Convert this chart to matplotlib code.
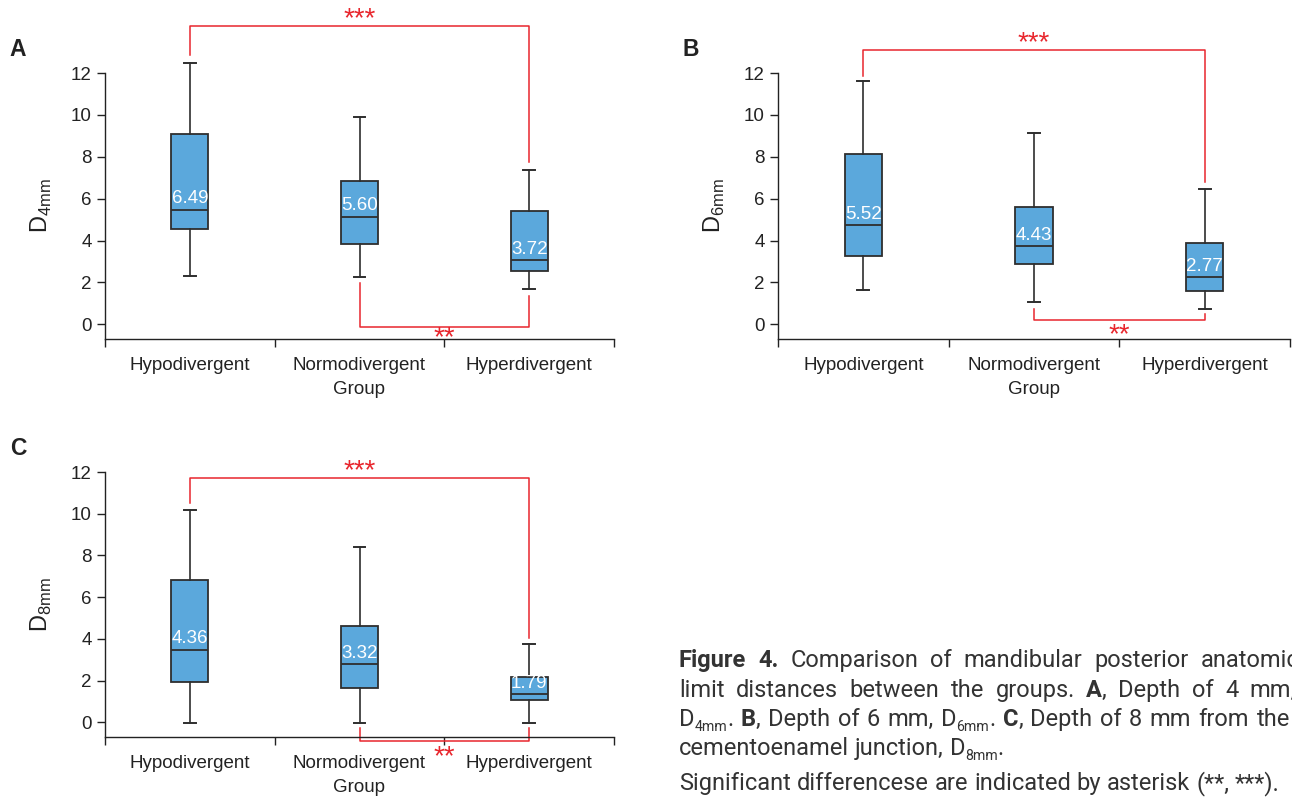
import matplotlib
matplotlib.use("Agg")
import matplotlib.pyplot as plt

plt.rcParams['font.family'] = ['Liberation Sans', 'DejaVu Sans']

groups = ["Hypodivergent", "Normodivergent", "Hyperdivergent"]

# box statistics (whisker low, Q1, median, Q3, whisker high)
d4_low = [2.33, 2.27, 1.71]
d4_q1 = [4.53, 3.85, 2.55]
d4_med = [5.46, 5.14, 3.06]
d4_q3 = [9.08, 6.83, 5.41]
d4_high = [12.48, 9.88, 7.39]
d4_mean = [6.49, 5.60, 3.72]

d6_low = [1.64, 1.07, 0.75]
d6_q1 = [3.24, 2.87, 1.61]
d6_med = [4.74, 3.72, 2.25]
d6_q3 = [8.14, 5.58, 3.86]
d6_high = [11.60, 9.13, 6.48]
d6_mean = [5.52, 4.43, 2.77]

d8_low = [-0.05, -0.05, -0.05]
d8_q1 = [1.95, 1.65, 1.05]
d8_med = [3.47, 2.78, 1.36]
d8_q3 = [6.81, 4.62, 2.19]
d8_high = [10.16, 8.42, 3.77]
d8_mean = [4.36, 3.32, 1.79]

# significance brackets: (group a, group b, bar y, leg end a, leg end b, stars, text y)
d4_sig = [(1, 3, 14.25, 12.85, 7.75, "***", 14.55), (2, 3, -0.13, 1.95, 1.35, "**", -0.65)]
d6_sig = [(1, 3, 13.1, 11.85, 6.8, "***", 13.4), (2, 3, 0.19, 0.72, 0.48, "**", -0.5)]
d8_sig = [(1, 3, 11.73, 10.5, 4.05, "***", 12.05), (2, 3, -0.88, -0.27, -0.27, "**", -1.65)]

BOX = "#5ba8dc"
EDGE = "#2e2e2e"
RED = "#e8262d"
INK = "#222222"

W, H = 1292, 799
fig = plt.figure(figsize=(W / 100, H / 100), dpi=100)


def panel(rect, low, q1, med, q3, high, means, sub, letter, sig):
    ax = fig.add_axes(rect)
    stats = [dict(whislo=low[i], q1=q1[i], med=med[i], q3=q3[i], whishi=high[i], label=groups[i])
             for i in range(3)]
    parts = ax.bxp(stats, positions=[1, 2, 3], widths=0.22, patch_artist=True, showfliers=False,
                   capwidths=0.07, manage_ticks=False,
                   boxprops=dict(facecolor=BOX, edgecolor=EDGE, linewidth=1.3),
                   medianprops=dict(color=EDGE, linewidth=1.3),
                   whiskerprops=dict(color=EDGE, linewidth=1.2),
                   capprops=dict(color=EDGE, linewidth=1.4))
    for key in parts:
        for art in parts[key]:
            art.set_clip_on(False)
    for i in range(3):
        ax.text(i + 1, med[i] + 0.12, "%.2f" % means[i], color="white", fontsize=13.5,
                ha="center", va="bottom")
    for a, b, ybar, ya, yb, stars, ty in sig:
        ax.plot([a, a, b, b], [ya, ybar, ybar, yb], color=RED, lw=1.1, clip_on=False)
        ax.text((a + b) / 2, ty, stars, color=RED, fontsize=20, ha="center", va="center",
                clip_on=False)
    ax.set_xlim(0.5, 3.5)
    ax.set_ylim(-0.7, 12)
    ax.spines["top"].set_visible(False)
    ax.spines["right"].set_visible(False)
    for s in ("left", "bottom"):
        ax.spines[s].set_color(INK)
        ax.spines[s].set_linewidth(1.0)
    ax.set_yticks(range(0, 13, 2))
    ax.set_xticks([0.5, 1.5, 2.5, 3.5])
    ax.set_xticklabels([])
    ax.set_xticks([1, 2, 3], minor=True)
    ax.set_xticklabels(groups, minor=True)
    ax.tick_params(axis="both", which="major", direction="out", length=6, width=1,
                   color=INK, labelsize=13.5, labelcolor=INK)
    ax.tick_params(axis="x", which="minor", length=0, pad=13, labelsize=13.5, labelcolor=INK)
    ax.set_xlabel("Group", fontsize=13.5, color=INK, labelpad=5)
    ax.set_ylabel(r"D$_{\mathregular{%s}}$" % sub, fontsize=17, color=INK)
    ax.yaxis.set_label_coords(-0.1, 0.5)
    ax.text(-0.187, 1.09, letter, transform=ax.transAxes, fontsize=16.5, fontweight="bold",
            color=INK, ha="left", va="center")
    return ax


def rect(left, right, top, bottom):
    return [left / W, 1 - bottom / H, (right - left) / W, (bottom - top) / H]


panel(rect(105, 614, 73, 339), d4_low, d4_q1, d4_med, d4_q3, d4_high, d4_mean, "4mm", "A", d4_sig)
panel(rect(778, 1290, 73, 339), d6_low, d6_q1, d6_med, d6_q3, d6_high, d6_mean, "6mm", "B", d6_sig)
panel(rect(105, 614, 472, 737), d8_low, d8_q1, d8_med, d8_q3, d8_high, d8_mean, "8mm", "C", d8_sig)

# caption, drawn word by word so the lines can be justified
CAP = "#333333"
CFONT = "Roboto"
CSIZE = 17
caption = [
    ([[("Figure", "b")], [("4.", "b")], "Comparison", "of", "mandibular", "posterior", "anatomic"], 667, 1299),
    (["limit", "distances", "between", "the", "groups.", [("A", "b"), (",", "n")], "Depth", "of", "4", "mm,"], 697, 1296),
    ([[("D", "n"), ("4mm", "s"), (".", "n")], [("B", "b"), (",", "n")], "Depth", "of", "6", "mm,",
      [("D", "n"), ("6mm", "s"), (".", "n")], [("C", "b"), (",", "n")], "Depth", "of", "8", "mm", "from", "the"], 726, 1290),
    (["cementoenamel", "junction,", [("D", "n"), ("8mm", "s"), (".", "n")]], 755, None),
    (["Significant", "differencese", "are", "indicated", "by", "asterisk", "(**,", "***)."], 790, None),
]

fig.canvas.draw()
renderer = fig.canvas.get_renderer()


def make(seg, style):
    kw = dict(fontsize=CSIZE, family=CFONT, color=CAP, va="baseline", ha="left")
    if style == "b":
        kw["fontweight"] = "bold"
    if style == "s":
        kw["fontsize"] = CSIZE * 0.6
    t = fig.text(0, 0.5, seg, **kw)
    return t, t.get_window_extent(renderer).width


def measure(s):
    t, wd = make(s, "n")
    t.remove()
    return wd


space_w = measure("x x") - measure("xx")
x0 = 679
for words, base, right in caption:
    words = [[(w, "n")] if isinstance(w, str) else w for w in words]
    placed = []
    widths = []
    for w in words:
        arts = []
        tw = 0
        for seg, st in w:
            t, wd = make(seg, st)
            arts.append((t, st, tw))
            tw += wd
        placed.append(arts)
        widths.append(tw)
    gap = space_w
    if right is not None:
        gap = (right - x0 - sum(widths)) / (len(words) - 1)
    x = x0
    for arts, tw in zip(placed, widths):
        for t, st, off in arts:
            yy = base + 5 if st == "s" else base
            t.set_position(((x + off) / W, 1 - yy / H))
        x += tw + gap

fig.savefig("out.png", dpi=100)
